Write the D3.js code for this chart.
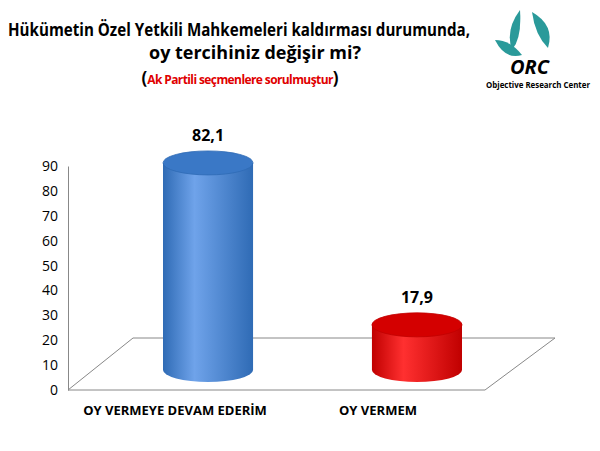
<!DOCTYPE html><html><head><meta charset="utf-8"><script src="https://cdn.jsdelivr.net/npm/d3@7"></script>
<style>body{margin:0;background:#fff}text{font-family:"Open Sans",Arial,sans-serif}</style></head><body><svg id="c" width="600" height="451"></svg>
<script>
const categories=["OY VERMEYE DEVAM EDERİM","OY VERMEM"];
const values=[82.1,17.9];
const valueLabels=["82,1","17,9"];
const ticks=[0,10,20,30,40,50,60,70,80,90];
const colors=[["#2f6bb5","#6fa3ea","#3a78c6"],["#c00000","#ff3030","#d40000"]];
const svg=d3.select("#c");
const defs=svg.append("defs");
colors.forEach((c,i)=>{const g=defs.append("linearGradient").attr("id","g"+i);
g.append("stop").attr("offset","0%").attr("stop-color",c[0]);
g.append("stop").attr("offset","35%").attr("stop-color",c[1]);
g.append("stop").attr("offset","100%").attr("stop-color",c[0]);});
svg.append("text").attr("x",8).attr("y",36).attr("font-size",17).attr("font-weight","bold").attr("textLength",462).attr("lengthAdjust","spacingAndGlyphs").text("Hükümetin Özel Yetkili Mahkemeleri kaldırması durumunda,");
svg.append("text").attr("x",255).attr("y",59).attr("text-anchor","middle").attr("font-size",17).attr("font-weight","bold").attr("textLength",212).attr("lengthAdjust","spacingAndGlyphs").text("oy tercihiniz değişir mi?");
const st=svg.append("text").attr("x",240).attr("y",84).attr("text-anchor","middle");
st.append("tspan").attr("font-size",17).attr("font-weight","bold").text("(");
st.append("tspan").attr("font-size",12).attr("font-weight","bold").attr("fill","#e00000").attr("letter-spacing","-0.6").text("Ak Partili seçmenlere sorulmuştur");
st.append("tspan").attr("font-size",17).attr("font-weight","bold").text(")");
const lg=svg.append("g");
lg.append("path").attr("d","M520 10 Q505 30 512 50 Q522 38 520 10Z").attr("fill","#2a9a9a");
lg.append("path").attr("d","M532 12 Q555 25 548 48 Q535 35 532 12Z").attr("fill","#2a9a9a");
lg.append("path").attr("d","M495 40 Q510 40 522 55 Q505 60 495 40Z").attr("fill","#2a9a9a");
lg.append("text").attr("x",510).attr("y",74).attr("font-size",20).attr("font-weight","bold").attr("font-style","italic").text("ORC");
lg.append("text").attr("x",486).attr("y",88).attr("font-size",8.5).attr("font-weight","bold").attr("textLength",104).attr("lengthAdjust","spacingAndGlyphs").text("Objective Research Center");
const y=d3.scaleLinear().domain([0,90]).range([390,166]);
const ax=svg.append("g").attr("transform","translate(68,0)").call(d3.axisLeft(y).tickValues(ticks).tickSize(0).tickPadding(10));
ax.select(".domain").attr("stroke","#888");
ax.selectAll("text").attr("font-size",14).attr("fill","#000");
svg.append("path").attr("d","M68 390 L485 390 L555 338 L133 338 Z").attr("fill","none").attr("stroke","#888");
const x=d3.scaleBand().domain(categories).range([163,462]).paddingInner(0.569).paddingOuter(0);
const yb=d3.scaleLinear().domain([0,90]).range([370,143]);
const ry=12;
categories.forEach((c,i)=>{const x0=x(c), w=x.bandwidth(), cx=x0+w/2, rx=w/2, top=yb(values[i]), bot=yb(0);
svg.append("path").attr("d",`M${x0} ${top} L${x0} ${bot} A${rx} ${ry} 0 0 0 ${x0+w} ${bot} L${x0+w} ${top} Z`).attr("fill",`url(#g${i})`);
svg.append("ellipse").attr("cx",cx).attr("cy",top).attr("rx",rx).attr("ry",ry).attr("fill",colors[i][2]).attr("stroke",colors[i][0]).attr("stroke-width",0.8);
svg.append("text").attr("x",cx).attr("y",top-22).attr("text-anchor","middle").attr("font-size",16).attr("font-weight","bold").text(valueLabels[i]);
svg.append("text").attr("x",[175,378][i]).attr("y",415).attr("text-anchor","middle").attr("font-size",13).attr("font-weight","bold").text(c);});
</script></body></html>
